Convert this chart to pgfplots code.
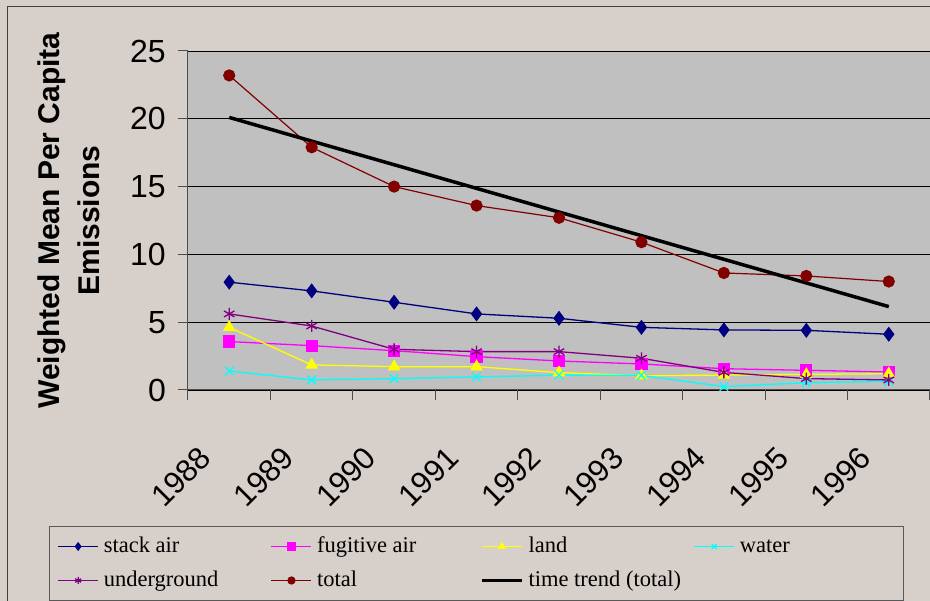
\documentclass[border=0pt]{standalone}
\usepackage{pgfplots}
\pgfplotsset{compat=1.18}
\usepackage{fontspec}
\setmainfont{Liberation Serif}
\newfontfamily\arial{Liberation Sans}
\definecolor{bg}{HTML}{D7CFC9}
\definecolor{plotbg}{HTML}{C0C0C0}
\definecolor{stack}{HTML}{000080}
\definecolor{fug}{HTML}{FF00FF}
\definecolor{landc}{HTML}{FFFF00}
\definecolor{waterc}{HTML}{00FFFF}
\definecolor{under}{HTML}{800080}
\definecolor{totalc}{HTML}{800000}
\begin{document}
\begin{tikzpicture}[x=1pt,y=1pt]
\path[use as bounding box, fill=bg] (0,0) rectangle (930,601);
\draw[black!75, line width=1pt] (7,0) -- (7,594) -- (930,594);
\begin{axis}[
  at={(188pt,211pt)}, anchor=south west,
  width=742pt, height=339pt, scale only axis,
  xmin=-0.5, xmax=8.5, ymin=0, ymax=25,
  axis background/.style={fill=plotbg},
  axis x line*=bottom, axis y line*=left,
  axis line style={black!70, line width=1pt, -},
  ytick={0,5,...,25},
  ymajorgrids, major grid style={black, line width=0.8pt},
  xtick={-0.5,0.5,...,8.5}, xticklabels={},
  tick style={black!70, line width=1pt},
  tick align=outside, major tick length=10pt,
  extra x ticks={0,1,2,3,4,5,6,7,8},
  extra x tick labels={1988,1989,1990,1991,1992,1993,1994,1995,1996},
  extra x tick style={major tick length=0pt, grid=none,
    xticklabel style={font=\arial\fontsize{31}{31}\selectfont, inner sep=0pt, xshift=-48pt, yshift=-87pt, rotate=45, anchor=center}},
  yticklabel style={font=\arial\fontsize{32}{32}\selectfont, inner sep=0pt, anchor=east, xshift=-12pt},
  /pgf/number format/assume math mode=true,
  ylabel={Weighted Mean Per Capita\\Emissions},
  ylabel style={font=\arial\bfseries\fontsize{30}{40}\selectfont, align=center, at={(axis description cs:-0.1604,0.5)}, anchor=center},
  legend columns=4,
  legend style={at={(axis description cs:-0.1873,-0.4012)}, anchor=north west,
    draw=black!65, line width=1pt, fill=bg,
    font=\fontsize{22.5}{27}\selectfont,
    inner xsep=8pt, inner ysep=3pt,
    nodes={inner xsep=0pt, inner ysep=6.5pt, text height=16pt, text depth=5pt, anchor=west},
    /tikz/every odd column/.append style={column sep=5pt},
    /tikz/every even column/.append style={column sep=0pt}},
  legend image code/.code={\draw[mark repeat=2,mark phase=2,#1] plot coordinates {(0pt,0pt) (20pt,0pt) (40pt,0pt)};},
  legend image post style={mark size=3.5pt},
]
\addplot[stack, line width=1.3pt, mark=diamond*, mark size=6.5pt, mark options={solid}] coordinates {(0,7.95)(1,7.31)(2,6.47)(3,5.61)(4,5.29)(5,4.62)(6,4.43)(7,4.40)(8,4.11)};
\addlegendentry{\makebox[167pt][l]{stack air}}
\addplot[fug, line width=1.3pt, mark=square*, mark size=5.5pt, mark options={solid}] coordinates {(0,3.57)(1,3.27)(2,2.90)(3,2.46)(4,2.14)(5,1.92)(6,1.57)(7,1.45)(8,1.33)};
\addlegendentry{\makebox[163pt][l]{fugitive air}}
\addplot[landc, line width=1.3pt, mark=triangle*, mark size=6pt, mark options={solid}] coordinates {(0,4.62)(1,1.85)(2,1.72)(3,1.72)(4,1.28)(5,1.05)(6,1.10)(7,1.15)(8,1.20)};
\addlegendentry{\makebox[165pt][l]{land}}
\addplot[waterc, line width=1.3pt, mark=x, mark size=6pt, mark options={solid}] coordinates {(0,1.40)(1,0.74)(2,0.84)(3,0.96)(4,1.10)(5,1.08)(6,0.25)(7,0.54)(8,0.64)};
\addlegendentry{\makebox[156pt][l]{water}}
\addplot[under, line width=1.3pt, mark=asterisk, mark size=6pt, mark options={solid}] coordinates {(0,5.61)(1,4.72)(2,3.00)(3,2.83)(4,2.83)(5,2.34)(6,1.30)(7,0.84)(8,0.74)};
\addlegendentry{\makebox[167pt][l]{underground}}
\addplot[totalc, line width=1.2pt, mark=*, mark size=5.5pt, mark options={solid}] coordinates {(0,23.2)(1,17.9)(2,15.0)(3,13.6)(4,12.7)(5,10.9)(6,8.63)(7,8.41)(8,8.0)};
\addlegendentry{\makebox[163pt][l]{total}}
\addplot[black, line width=3.5pt] coordinates {(0,20.1)(8,6.15)};
\addlegendentry{\makebox[165pt][l]{time trend (total)}}
\end{axis}
\end{tikzpicture}
\end{document}
